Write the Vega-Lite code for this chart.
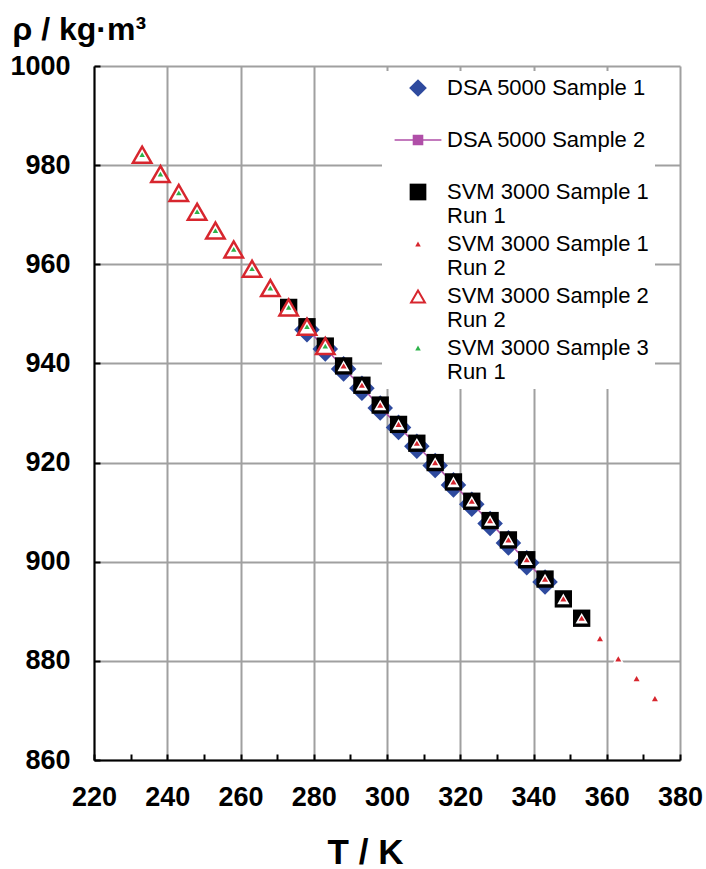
{
  "$schema": "https://vega.github.io/schema/vega-lite/v6.json",
  "width": 586,
  "height": 694,
  "autosize": "none",
  "padding": {"left": 94, "top": 66, "right": 26, "bottom": 109},
  "background": "white",
  "config": {
    "view": {"stroke": null},
    "font": "Liberation Sans"
  },
  "data": {
    "values": [
      {"s": "DSA 5000 Sample 1", "T": 278.15, "rho": 946.8},
      {"s": "DSA 5000 Sample 1", "T": 283.15, "rho": 942.9},
      {"s": "DSA 5000 Sample 1", "T": 288.15, "rho": 938.9},
      {"s": "DSA 5000 Sample 1", "T": 293.15, "rho": 935.0},
      {"s": "DSA 5000 Sample 1", "T": 298.15, "rho": 931.0},
      {"s": "DSA 5000 Sample 1", "T": 303.15, "rho": 927.1},
      {"s": "DSA 5000 Sample 1", "T": 308.15, "rho": 923.3},
      {"s": "DSA 5000 Sample 1", "T": 313.15, "rho": 919.4},
      {"s": "DSA 5000 Sample 1", "T": 318.15, "rho": 915.5},
      {"s": "DSA 5000 Sample 1", "T": 323.15, "rho": 911.6},
      {"s": "DSA 5000 Sample 1", "T": 328.15, "rho": 907.7},
      {"s": "DSA 5000 Sample 1", "T": 333.15, "rho": 903.8},
      {"s": "DSA 5000 Sample 1", "T": 338.15, "rho": 899.8},
      {"s": "DSA 5000 Sample 1", "T": 343.15, "rho": 895.9},
      {"s": "DSA 5000 Sample 2", "T": 278.15, "rho": 947.0},
      {"s": "DSA 5000 Sample 2", "T": 283.15, "rho": 943.1},
      {"s": "DSA 5000 Sample 2", "T": 288.15, "rho": 939.1},
      {"s": "DSA 5000 Sample 2", "T": 293.15, "rho": 935.2},
      {"s": "DSA 5000 Sample 2", "T": 298.15, "rho": 931.2},
      {"s": "DSA 5000 Sample 2", "T": 303.15, "rho": 927.3},
      {"s": "DSA 5000 Sample 2", "T": 308.15, "rho": 923.5},
      {"s": "DSA 5000 Sample 2", "T": 313.15, "rho": 919.6},
      {"s": "DSA 5000 Sample 2", "T": 318.15, "rho": 915.7},
      {"s": "DSA 5000 Sample 2", "T": 323.15, "rho": 911.8},
      {"s": "DSA 5000 Sample 2", "T": 328.15, "rho": 907.9},
      {"s": "DSA 5000 Sample 2", "T": 333.15, "rho": 904.0},
      {"s": "DSA 5000 Sample 2", "T": 338.15, "rho": 900.0},
      {"s": "DSA 5000 Sample 2", "T": 343.15, "rho": 896.1},
      {"s": "SVM 3000 Sample 1 Run 1", "T": 273.15, "rho": 951.3},
      {"s": "SVM 3000 Sample 1 Run 1", "T": 278.15, "rho": 947.4},
      {"s": "SVM 3000 Sample 1 Run 1", "T": 283.15, "rho": 943.5},
      {"s": "SVM 3000 Sample 1 Run 1", "T": 288.15, "rho": 939.5},
      {"s": "SVM 3000 Sample 1 Run 1", "T": 293.15, "rho": 935.6},
      {"s": "SVM 3000 Sample 1 Run 1", "T": 298.15, "rho": 931.6},
      {"s": "SVM 3000 Sample 1 Run 1", "T": 303.15, "rho": 927.7},
      {"s": "SVM 3000 Sample 1 Run 1", "T": 308.15, "rho": 923.9},
      {"s": "SVM 3000 Sample 1 Run 1", "T": 313.15, "rho": 920.0},
      {"s": "SVM 3000 Sample 1 Run 1", "T": 318.15, "rho": 916.1},
      {"s": "SVM 3000 Sample 1 Run 1", "T": 323.15, "rho": 912.2},
      {"s": "SVM 3000 Sample 1 Run 1", "T": 328.15, "rho": 908.3},
      {"s": "SVM 3000 Sample 1 Run 1", "T": 333.15, "rho": 904.4},
      {"s": "SVM 3000 Sample 1 Run 1", "T": 338.15, "rho": 900.4},
      {"s": "SVM 3000 Sample 1 Run 1", "T": 343.15, "rho": 896.5},
      {"s": "SVM 3000 Sample 1 Run 1", "T": 348.15, "rho": 892.5},
      {"s": "SVM 3000 Sample 1 Run 1", "T": 353.15, "rho": 888.6},
      {"s": "SVM 3000 Sample 1 Run 2", "T": 288.15, "rho": 939.5},
      {"s": "SVM 3000 Sample 1 Run 2", "T": 293.15, "rho": 935.6},
      {"s": "SVM 3000 Sample 1 Run 2", "T": 298.15, "rho": 931.6},
      {"s": "SVM 3000 Sample 1 Run 2", "T": 303.15, "rho": 927.7},
      {"s": "SVM 3000 Sample 1 Run 2", "T": 308.15, "rho": 923.9},
      {"s": "SVM 3000 Sample 1 Run 2", "T": 313.15, "rho": 920.0},
      {"s": "SVM 3000 Sample 1 Run 2", "T": 318.15, "rho": 916.1},
      {"s": "SVM 3000 Sample 1 Run 2", "T": 323.15, "rho": 912.2},
      {"s": "SVM 3000 Sample 1 Run 2", "T": 328.15, "rho": 908.3},
      {"s": "SVM 3000 Sample 1 Run 2", "T": 333.15, "rho": 904.4},
      {"s": "SVM 3000 Sample 1 Run 2", "T": 338.15, "rho": 900.4},
      {"s": "SVM 3000 Sample 1 Run 2", "T": 343.15, "rho": 896.5},
      {"s": "SVM 3000 Sample 1 Run 2", "T": 348.15, "rho": 892.5},
      {"s": "SVM 3000 Sample 1 Run 2", "T": 353.15, "rho": 888.6},
      {"s": "SVM 3000 Sample 1 Run 2", "T": 358.15, "rho": 884.5},
      {"s": "SVM 3000 Sample 1 Run 2", "T": 363.15, "rho": 880.4},
      {"s": "SVM 3000 Sample 1 Run 2", "T": 368.15, "rho": 876.4},
      {"s": "SVM 3000 Sample 1 Run 2", "T": 373.15, "rho": 872.4},
      {"s": "SVM 3000 Sample 2 Run 2", "T": 233.15, "rho": 982.1},
      {"s": "SVM 3000 Sample 2 Run 2", "T": 238.15, "rho": 978.2},
      {"s": "SVM 3000 Sample 2 Run 2", "T": 243.15, "rho": 974.4},
      {"s": "SVM 3000 Sample 2 Run 2", "T": 248.15, "rho": 970.6},
      {"s": "SVM 3000 Sample 2 Run 2", "T": 253.15, "rho": 966.8},
      {"s": "SVM 3000 Sample 2 Run 2", "T": 258.15, "rho": 963.0},
      {"s": "SVM 3000 Sample 2 Run 2", "T": 263.15, "rho": 959.1},
      {"s": "SVM 3000 Sample 2 Run 2", "T": 268.15, "rho": 955.2},
      {"s": "SVM 3000 Sample 2 Run 2", "T": 273.15, "rho": 951.3},
      {"s": "SVM 3000 Sample 2 Run 2", "T": 278.15, "rho": 947.4},
      {"s": "SVM 3000 Sample 2 Run 2", "T": 283.15, "rho": 943.5},
      {"s": "SVM 3000 Sample 3 Run 1", "T": 233.15, "rho": 982.1},
      {"s": "SVM 3000 Sample 3 Run 1", "T": 238.15, "rho": 978.2},
      {"s": "SVM 3000 Sample 3 Run 1", "T": 243.15, "rho": 974.4},
      {"s": "SVM 3000 Sample 3 Run 1", "T": 248.15, "rho": 970.6},
      {"s": "SVM 3000 Sample 3 Run 1", "T": 253.15, "rho": 966.8},
      {"s": "SVM 3000 Sample 3 Run 1", "T": 258.15, "rho": 963.0},
      {"s": "SVM 3000 Sample 3 Run 1", "T": 263.15, "rho": 959.1},
      {"s": "SVM 3000 Sample 3 Run 1", "T": 268.15, "rho": 955.2},
      {"s": "SVM 3000 Sample 3 Run 1", "T": 273.15, "rho": 951.3},
      {"s": "SVM 3000 Sample 3 Run 1", "T": 278.15, "rho": 947.4},
      {"s": "SVM 3000 Sample 3 Run 1", "T": 283.15, "rho": 943.5}
    ]
  },
  "encoding": {
    "x": {
      "field": "T", "type": "quantitative",
      "scale": {"domain": [220, 380], "nice": false, "zero": false},
      "axis": {
        "values": [220, 230, 240, 250, 260, 270, 280, 290, 300, 310, 320, 330, 340, 350, 360, 370, 380],
        "labelExpr": "datum.value % 20 === 0 ? datum.label : ''",
        "title": "T / K",
        "titleFont": "Liberation Sans", "titleFontSize": 35, "titleFontWeight": "bold", "titleColor": "black",
        "titleX": 271, "titleY": 103, "titleBaseline": "alphabetic", "titleAnchor": "middle", "titleAlign": "center",
        "labelFont": "Liberation Sans", "labelFontSize": 27, "labelFontWeight": "bold", "labelColor": "black",
        "labelPadding": 30, "labelFlush": false, "labelOverlap": false,
        "tickSize": -6, "tickColor": "black", "tickWidth": 2,
        "domainColor": "black", "domainWidth": 2,
        "grid": true, "gridColor": "#A0A0A0", "gridWidth": 2,
        "gridOpacity": {"condition": {"test": "datum.value % 20 === 0", "value": 1}, "value": 0}
      }
    },
    "y": {
      "field": "rho", "type": "quantitative",
      "scale": {"domain": [860, 1000], "nice": false, "zero": false},
      "axis": {
        "values": [860, 880, 900, 920, 940, 960, 980, 1000],
        "format": "d",
        "title": "ρ / kg·m³",
        "titleFont": "Liberation Sans", "titleFontSize": 32, "titleFontWeight": "bold", "titleColor": "black",
        "titleAngle": 0, "titleX": -82, "titleY": -27, "titleAlign": "left", "titleBaseline": "alphabetic",
        "labelFont": "Liberation Sans", "labelFontSize": 27, "labelFontWeight": "bold", "labelColor": "black",
        "labelPadding": 30, "labelFlush": false, "labelOverlap": false,
        "tickSize": -6, "tickColor": "black", "tickWidth": 2,
        "domainColor": "black", "domainWidth": 2,
        "grid": true, "gridColor": "#A0A0A0", "gridWidth": 2
      }
    }
  },
  "layer": [
    {
      "transform": [{"filter": "datum.s === 'DSA 5000 Sample 1'"}],
      "mark": {"type": "point", "filled": true, "opacity": 1, "strokeWidth": 0, "size": 209},
      "encoding": {
        "shape": {
          "field": "s", "type": "nominal",
          "scale": {
            "domain": ["DSA 5000 Sample 1", "DSA 5000 Sample 2", "SVM 3000 Sample 1 Run 1", "SVM 3000 Sample 1 Run 2", "SVM 3000 Sample 2 Run 2", "SVM 3000 Sample 3 Run 1"],
            "range": [
              "M0,-1.77L1.77,0L0,1.77L-1.77,0Z",
              "M-4.68,-0.15H4.68V0.15H-4.68Z M-1.06,-1.06H1.06V1.06H-1.06Z",
              "M-1.67,-1.67H1.67V1.67H-1.67Z",
              "M0,-0.48L0.55,0.48L-0.55,0.48Z",
              "M0,-1.5L1.73,1.5L-1.73,1.5Z M0,-0.7L-1.038,1.1L1.038,1.1Z",
              "M0,-0.48L0.55,0.48L-0.55,0.48Z"
            ]
          },
          "legend": {
            "title": null,
            "orient": "none", "legendX": 288, "legendY": 5,
            "fillColor": "white", "strokeColor": null, "padding": 6,
            "symbolSize": 100, "symbolOffset": 19, "labelOffset": 18, "symbolStrokeWidth": 0, "symbolOpacity": 1,
            "labelFont": "Liberation Sans", "labelFontSize": 22, "labelColor": "black",
            "labelLimit": 400, "labelBaseline": "middle",
            "rowPadding": 6,
            "labelExpr": "indexof(datum.label, ' Run') > 0 ? [substring(datum.label, 0, indexof(datum.label, ' Run')), substring(datum.label, indexof(datum.label, ' Run') + 1)] : [datum.label, '']"
          }
        },
        "fill": {
          "field": "s", "type": "nominal",
          "scale": {
            "domain": ["DSA 5000 Sample 1", "DSA 5000 Sample 2", "SVM 3000 Sample 1 Run 1", "SVM 3000 Sample 1 Run 2", "SVM 3000 Sample 2 Run 2", "SVM 3000 Sample 3 Run 1"],
            "range": ["#2E4A9E", "#B04FA8", "#000000", "#D7262E", "#D7262E", "#2DB34A"]
          }
        }
      }
    },
    {
      "transform": [{"filter": "datum.s === 'DSA 5000 Sample 2'"}],
      "mark": {"type": "line", "color": "#B04FA8", "strokeWidth": 1.5},
      "encoding": {}
    },
    {
      "transform": [{"filter": "datum.s === 'DSA 5000 Sample 2'"}],
      "mark": {"type": "point", "shape": "square", "filled": true, "opacity": 1, "fill": "#B04FA8", "strokeWidth": 0, "size": 100},
      "encoding": {}
    },
    {
      "transform": [{"filter": "datum.s === 'SVM 3000 Sample 1 Run 1'"}],
      "mark": {"type": "point", "shape": "square", "filled": true, "opacity": 1, "fill": "#000000", "strokeWidth": 0, "size": 300},
      "encoding": {}
    },
    {
      "transform": [{"filter": "datum.s === 'SVM 3000 Sample 1 Run 2'"}],
      "mark": {"type": "point", "shape": "triangle-up", "filled": true, "opacity": 1, "fill": "#FFFFFF", "strokeWidth": 0, "size": 150},
      "encoding": {}
    },
    {
      "transform": [{"filter": "datum.s === 'SVM 3000 Sample 1 Run 2'"}],
      "mark": {"type": "point", "shape": "triangle-up", "filled": true, "opacity": 1, "fill": "#D7262E", "strokeWidth": 0, "size": 36},
      "encoding": {}
    },
    {
      "transform": [{"filter": "datum.s === 'SVM 3000 Sample 2 Run 2'"}],
      "mark": {"type": "point", "shape": "triangle-up", "filled": true, "opacity": 1, "fill": "#FFFFFF", "stroke": "#D7262E", "strokeWidth": 2.5, "size": 340},
      "encoding": {}
    },
    {
      "transform": [{"filter": "datum.s === 'SVM 3000 Sample 3 Run 1'"}],
      "mark": {"type": "point", "shape": "triangle-up", "filled": true, "opacity": 1, "fill": "#2DB34A", "strokeWidth": 0, "size": 30},
      "encoding": {}
    }
  ]
}
